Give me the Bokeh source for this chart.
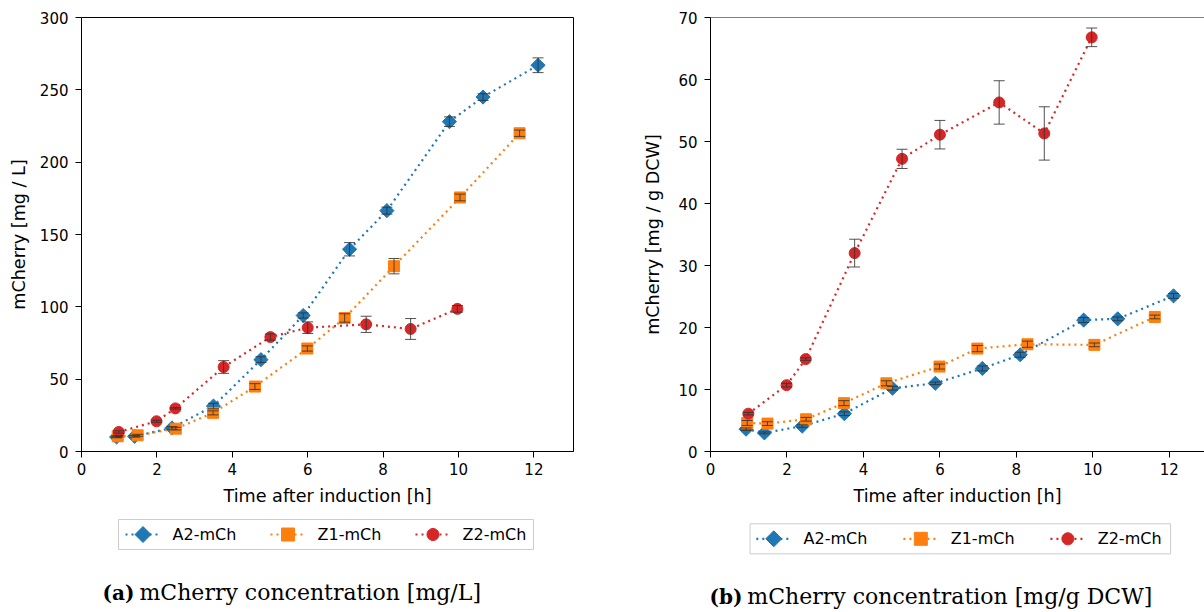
import numpy as np
from bokeh.plotting import figure
from bokeh.models import ColumnDataSource, Whisker, TeeHead, Span, FixedTicker, Range1d
from bokeh.core.properties import value
from bokeh.layouts import row
from bokeh.embed import file_html
from bokeh.resources import INLINE

# ---------------- data ----------------
series_names = ["A2-mCh", "Z1-mCh", "Z2-mCh"]

time_A2 = [0.93, 1.41, 2.40, 3.50, 4.76, 5.88, 7.11, 8.10, 9.76, 10.65, 12.11]
time_Z1 = [0.96, 1.49, 2.50, 3.49, 4.60, 5.99, 6.98, 8.29, 10.04, 11.62]
time_Z2 = [0.99, 1.99, 2.49, 3.77, 5.01, 6.00, 7.55, 8.73, 9.97]

# panel (a): mg / L
mgL_A2 = [10.0, 10.5, 16.3, 31.4, 63.5, 94.0, 139.8, 166.5, 228.0, 245.0, 267.0]
mgL_A2_err = [0.5, 0.6, 0.9, 1.9, 2.0, 1.8, 4.6, 2.4, 3.3, 2.3, 5.1]
mgL_Z1 = [10.5, 11.2, 15.8, 26.7, 44.9, 71.2, 92.3, 128.1, 175.6, 220.0]
mgL_Z1_err = [0.5, 0.7, 0.9, 1.4, 2.0, 1.8, 2.9, 5.3, 2.3, 2.2]
mgL_Z2 = [13.5, 20.9, 29.8, 58.4, 79.1, 85.6, 87.9, 84.7, 98.6]
mgL_Z2_err = [0.8, 0.7, 0.5, 4.4, 2.1, 4.0, 5.6, 7.2, 2.3]

# panel (b): mg / g DCW
mgg_A2 = [3.6, 3.0, 4.1, 6.1, 10.2, 11.0, 13.4, 15.6, 21.2, 21.4, 25.1]
mgg_A2_err = [0.2, 0.15, 0.2, 0.3, 0.3, 0.2, 0.4, 0.4, 0.4, 0.3, 0.4]
mgg_Z1 = [4.6, 4.5, 5.2, 7.8, 11.0, 13.7, 16.6, 17.3, 17.2, 21.7]
mgg_Z1_err = [0.4, 0.3, 0.3, 0.4, 0.4, 0.4, 0.5, 0.5, 0.3, 0.3]
mgg_Z2 = [6.1, 10.7, 14.9, 32.0, 47.2, 51.1, 56.3, 51.3, 66.8]
mgg_Z2_err = [0.2, 0.3, 0.2, 2.24, 1.55, 2.3, 3.5, 4.3, 1.5]

x_ticks = [0, 2, 4, 6, 8, 10, 12]
y_ticks_a = [0, 50, 100, 150, 200, 250, 300]
y_ticks_b = [0, 10, 20, 30, 40, 50, 60, 70]

caption_a = ("(a)", "mCherry concentration [mg/L]")
caption_b = ("(b)", "mCherry concentration [mg/g DCW]")

colors = ["#1f77b4", "#ff7f0e", "#d62728"]
markers = [("square", np.pi / 4, 10), ("square", 0.0, 11), ("circle", 0.0, 11)]

SANS = "DejaVu Sans"
SERIF = "DejaVu Serif"
ERR_COLOR = "#333333"
FIG_H = 612
TOP, FRAME_H = 17, 434
LINE_W = 2.2
DASH = "2 4"


class Geo:
    """Maps page-pixel offsets (layout only) to a panel's data coordinates."""

    def __init__(self, p, left, bottom, w, h):
        self.p, self.left, self.bottom, self.w, self.h = p, left, bottom, w, h

    def x(self, px):
        xr = self.p.x_range
        return xr.start + (px - self.left) * (xr.end - xr.start) / self.w

    def y(self, py):
        yr = self.p.y_range
        return yr.start + (self.bottom - py) * (yr.end - yr.start) / self.h


def style_axes(p, ylabel, y_ticks, ylab_standoff):
    p.xaxis.ticker = FixedTicker(ticks=x_ticks)
    p.yaxis.ticker = FixedTicker(ticks=y_ticks)
    p.xaxis.axis_label = "Time after induction [h]"
    p.yaxis.axis_label = ylabel
    for ax in (p.xaxis[0], p.yaxis[0]):
        ax.axis_line_color = "black"
        ax.axis_line_width = 1
        ax.major_tick_line_color = "black"
        ax.major_tick_out = 6
        ax.major_tick_in = 0
        ax.minor_tick_line_color = None
        ax.major_label_text_font = SANS
        ax.major_label_text_font_size = "15px"
        ax.major_label_text_color = "black"
        ax.axis_label_text_font = SANS
        ax.axis_label_text_font_size = "17.6px"
        ax.axis_label_text_font_style = "normal"
        ax.axis_label_text_color = "black"
    p.xaxis.major_label_standoff = 5
    p.yaxis.major_label_standoff = 7
    p.xaxis.axis_label_standoff = 8
    p.yaxis.axis_label_standoff = ylab_standoff
    p.grid.visible = False


def add_series(p, xs_list, ys_list, errs_list):
    for xs, ys, errs, col, (mk, ang, sz) in zip(xs_list, ys_list, errs_list,
                                                colors, markers):
        src = ColumnDataSource(dict(x=xs, y=ys,
                                    upper=[v + e for v, e in zip(ys, errs)],
                                    lower=[v - e for v, e in zip(ys, errs)]))
        p.line("x", "y", source=src, line_color=col, line_width=LINE_W, line_dash=DASH)
        p.scatter("x", "y", source=src, marker=mk, angle=ang, size=sz,
                  fill_color=col, line_color=col)
        wh = Whisker(source=src, base="x", upper="upper", lower="lower", level="overlay",
                     line_color=ERR_COLOR, line_alpha=0.85, line_width=1,
                     upper_head=TeeHead(size=11, line_color=ERR_COLOR, line_alpha=0.85),
                     lower_head=TeeHead(size=11, line_color=ERR_COLOR, line_alpha=0.85))
        p.add_layout(wh)


def legend_marker(g, kind, cx, cy, col):
    p = g.p
    if kind == 0:      # diamond
        r = 8.0
        px = [cx, cx + r, cx, cx - r]
        py = [cy - r, cy, cy + r, cy]
    elif kind == 1:    # square
        r = 6.5
        px = [cx - r, cx + r, cx + r, cx - r]
        py = [cy - r, cy - r, cy + r, cy + r]
    else:              # circle
        r = 6.0
        t = np.linspace(0, 2 * np.pi, 40, endpoint=False)
        px = list(cx + r * np.cos(t))
        py = list(cy + r * np.sin(t))
    p.patch(x=[g.x(v) for v in px], y=[g.y(v) for v in py], level="overlay",
            fill_color=col, line_color=col, line_width=1)


def add_legend(g, box, starts, text_off, yc):
    p = g.p
    l, t, r, b = box
    p.quad(left=[g.x(l)], right=[g.x(r)], top=[g.y(t)], bottom=[g.y(b)], level="overlay",
           fill_color="white", fill_alpha=0.9, line_color="#cccccc", line_width=1)
    for k, (name, col, s) in enumerate(zip(series_names, colors, starts)):
        p.segment(x0=[g.x(s)], y0=[g.y(yc)], x1=[g.x(s + 35)], y1=[g.y(yc)],
                  level="overlay", line_color=col, line_width=LINE_W, line_dash=DASH)
        legend_marker(g, k, s + 17.5, yc, col)
        p.text(x=[g.x(s + text_off)], y=[g.y(yc)], text=[name], level="overlay",
               text_font=value(SANS), text_font_size="16px", text_color="black",
               text_baseline="middle", text_align="left")


def add_caption(g, caption, px_letter, px_text, px_base):
    p = g.p
    p.text(x=[g.x(px_letter)], y=[g.y(px_base)], text=[caption[0]], level="overlay",
           text_font=value(SERIF), text_font_size="20px", text_font_style="bold",
           text_color="black", text_baseline="alphabetic", text_align="left")
    p.text(x=[g.x(px_text)], y=[g.y(px_base)], text=[caption[1]], level="overlay",
           text_font=value(SERIF), text_font_size="22px",
           text_color="black", text_baseline="alphabetic", text_align="left")


# ---------------- panel (a) ----------------
p1 = figure(width=640, height=FIG_H, output_backend="svg", toolbar_location=None,
            x_range=Range1d(0, 13.05), y_range=Range1d(0, 300),
            min_border_left=81, min_border_right=67, min_border_top=TOP,
            min_border_bottom=FIG_H - TOP - FRAME_H)
p1.outline_line_color = "black"
p1.outline_line_width = 1
p1.background_fill_color = "white"
p1.border_fill_color = "white"
style_axes(p1, "mCherry [mg / L]", y_ticks_a, 8)
add_series(p1, [time_A2, time_Z1, time_Z2], [mgL_A2, mgL_Z1, mgL_Z2],
           [mgL_A2_err, mgL_Z1_err, mgL_Z2_err])
g1 = Geo(p1, 81, TOP + FRAME_H, 492, FRAME_H)
add_legend(g1, (118, 519, 533, 549), [125, 270, 415], 47, 534)
add_caption(g1, caption_a, 102, 139, 592)

# ---------------- panel (b) ----------------
p2 = figure(width=564, height=FIG_H, output_backend="svg", toolbar_location=None,
            x_range=Range1d(0, 12.92), y_range=Range1d(0, 70),
            min_border_left=68, min_border_right=0, min_border_top=TOP,
            min_border_bottom=FIG_H - TOP - FRAME_H)
p2.outline_line_color = None
p2.background_fill_color = "white"
p2.border_fill_color = "white"
style_axes(p2, "mCherry [mg / g DCW]", y_ticks_b, 12)
p2.add_layout(Span(location=70, dimension="width", line_color="black", line_width=1))
add_series(p2, [time_A2, time_Z1, time_Z2], [mgg_A2, mgg_Z1, mgg_Z2],
           [mgg_A2_err, mgg_Z1_err, mgg_Z2_err])
# page x of panel (b) starts at 640
g2 = Geo(p2, 68, TOP + FRAME_H, 496, FRAME_H)
add_legend(g2, (747.7 - 640, 523.3, 1170 - 640, 553.3),
           [754 - 640, 901.7 - 640, 1049.3 - 640], 47.5, 538.3)
add_caption(g2, caption_b, 707 - 640, 745 - 640, 596)

layout = row(p1, p2, spacing=0)
open("out.html", "w").write(file_html(layout, INLINE))
